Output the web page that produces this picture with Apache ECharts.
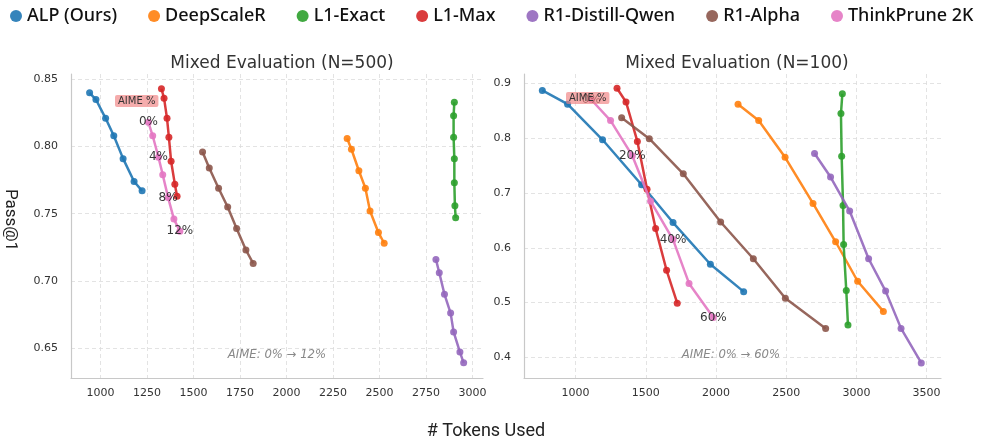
<!DOCTYPE html>
<html><head><meta charset="utf-8">
<script src="https://cdn.jsdelivr.net/npm/echarts@6/dist/echarts.min.js"></script>
<style>html,body{margin:0;padding:0;background:#fff}#c{width:981px;height:441px}</style>
</head><body><div id="c"></div>
<script>
// ---------- data ----------
const methods = ['ALP (Ours)','DeepScaleR','L1-Exact','L1-Max','R1-Distill-Qwen','R1-Alpha','ThinkPrune 2K'];

// Left panel: Mixed Evaluation (N=500)
const alpTok500  = [942, 976, 1028, 1072, 1122, 1181, 1224];
const alpAcc500  = [0.840, 0.835, 0.821, 0.808, 0.791, 0.774, 0.767];
const dsrTok500  = [2326, 2349, 2389, 2424, 2449, 2494, 2525];
const dsrAcc500  = [0.806, 0.798, 0.782, 0.769, 0.752, 0.736, 0.728];
const l1eTok500  = [2902, 2898, 2898, 2902, 2902, 2905, 2909];
const l1eAcc500  = [0.833, 0.823, 0.807, 0.791, 0.773, 0.756, 0.747];
const l1mTok500  = [1328, 1342, 1358, 1368, 1380, 1400, 1412];
const l1mAcc500  = [0.843, 0.836, 0.821, 0.807, 0.789, 0.772, 0.763];
const r1dTok500  = [2803, 2821, 2849, 2882, 2898, 2932, 2952];
const r1dAcc500  = [0.716, 0.706, 0.690, 0.676, 0.662, 0.647, 0.639];
const r1aTok500  = [1549, 1585, 1635, 1684, 1732, 1782, 1821];
const r1aAcc500  = [0.796, 0.784, 0.769, 0.755, 0.739, 0.723, 0.713];
const tpTok500   = [1258, 1281, 1312, 1335, 1364, 1395, 1427];
const tpAcc500   = [0.818, 0.808, 0.792, 0.779, 0.762, 0.746, 0.737];

// Right panel: Mixed Evaluation (N=100)
const alpTok100  = [763, 943, 1192, 1470, 1694, 1960, 2197];
const alpAcc100  = [0.887, 0.862, 0.797, 0.715, 0.646, 0.570, 0.520];
const dsrTok100  = [2157, 2304, 2492, 2691, 2852, 3009, 3192];
const dsrAcc100  = [0.862, 0.832, 0.765, 0.681, 0.611, 0.539, 0.484];
const l1eTok100  = [2900, 2890, 2895, 2905, 2909, 2928, 2940];
const l1eAcc100  = [0.881, 0.845, 0.767, 0.677, 0.606, 0.522, 0.459];
const l1mTok100  = [1295, 1359, 1440, 1509, 1570, 1648, 1724];
const l1mAcc100  = [0.891, 0.866, 0.794, 0.707, 0.635, 0.559, 0.499];
const r1dTok100  = [2702, 2816, 2952, 3087, 3208, 3318, 3462];
const r1dAcc100  = [0.772, 0.729, 0.667, 0.580, 0.521, 0.453, 0.390];
const r1aTok100  = [1328, 1525, 1767, 2033, 2266, 2494, 2781];
const r1aAcc100  = [0.837, 0.799, 0.735, 0.647, 0.580, 0.508, 0.453];
const tpTok100   = [1112, 1249, 1404, 1534, 1694, 1808, 1981];
const tpAcc100   = [0.870, 0.832, 0.768, 0.685, 0.615, 0.535, 0.473];

// tick values
const xTicks500 = [1000, 1250, 1500, 1750, 2000, 2250, 2500, 2750, 3000];
const yTicks500 = [0.65, 0.70, 0.75, 0.80, 0.85];
const xTicks100 = [1000, 1500, 2000, 2500, 3000, 3500];
const yTicks100 = [0.4, 0.5, 0.6, 0.7, 0.8, 0.9];

// AIME-% annotations on the ThinkPrune curve
const aimeIdx = [0, 2, 4, 6];
const aimeLabels500 = ['0%', '4%', '8%', '12%'];
const aimeLabels100 = ['0%', '20%', '40%', '60%'];

const titles = ['Mixed Evaluation (N=500)', 'Mixed Evaluation (N=100)'];
const aimeNotes = ['AIME: 0% \u2192 12%', 'AIME: 0% \u2192 60%'];

// ---------- styling ----------
const colors = ['#1f77b4','#ff7f0e','#2ca02c','#d62728','#9467bd','#8c564b','#e377c2'];
const tickFont = 'DejaVu Sans';

const left500 = [
  [alpTok500, alpAcc500],[dsrTok500, dsrAcc500],[l1eTok500, l1eAcc500],[l1mTok500, l1mAcc500],
  [r1dTok500, r1dAcc500],[r1aTok500, r1aAcc500],[tpTok500, tpAcc500]];
const right100 = [
  [alpTok100, alpAcc100],[dsrTok100, dsrAcc100],[l1eTok100, l1eAcc100],[l1mTok100, l1mAcc100],
  [r1dTok100, r1dAcc100],[r1aTok100, r1aAcc100],[tpTok100, tpAcc100]];

function buildData(tok, acc, labels) {
  return tok.map((t, i) => {
    const item = { value: [t, acc[i]] };
    if (labels) {
      const k = aimeIdx.indexOf(i);
      if (k >= 0) {
        item.label = {
          show: true, formatter: labels[k], position: 'inside', offset: [0, 8],
          color: '#222', fontSize: 12, fontFamily: tickFont
        };
      }
    }
    return item;
  });
}

const series = [];
[left500, right100].forEach((panel, p) => {
  panel.forEach((pair, m) => {
    const isTP = m === 6;
    series.push({
      type: 'line', name: methods[m], xAxisIndex: p, yAxisIndex: p,
      data: buildData(pair[0], pair[1], isTP ? (p === 0 ? aimeLabels500 : aimeLabels100) : null),
      symbol: 'circle', symbolSize: 7, showSymbol: true,
      lineStyle: { width: 2.5, color: colors[m], opacity: 0.9 },
      itemStyle: { color: colors[m], opacity: 0.9 },
      label: { show: false },
      labelLayout: { hideOverlap: false },
      emphasis: { disabled: true },
      animation: false, z: 2 + m
    });
  });
});

const gridL = { left: 71, top: 74, width: 412, height: 304 };
const gridR = { left: 524, top: 74, width: 417, height: 304 };

const gridLineStyle = { color: '#dcdcdc', type: [4, 3], width: 0.8 };

function xAxis(idx, min, max, ticks) {
  return {
    type: 'value', gridIndex: idx, min, max,
    axisLine: { show: true, lineStyle: { color: '#c8c8c8', width: 1.2 } },
    axisTick: { show: false, customValues: ticks },
    axisLabel: { color: '#333', fontSize: 11, fontFamily: tickFont, margin: 10, customValues: ticks,
      formatter: v => String(Math.round(v)) },
    splitLine: { show: true, lineStyle: gridLineStyle }
  };
}
function yAxis(idx, min, max, ticks, digits) {
  return {
    type: 'value', gridIndex: idx, min, max,
    axisLine: { show: true, lineStyle: { color: '#c8c8c8', width: 1.2 } },
    axisTick: { show: false, customValues: ticks },
    axisLabel: { color: '#333', fontSize: 11, fontFamily: tickFont, margin: 13, customValues: ticks,
      formatter: v => Number(v).toFixed(digits) },
    splitLine: { show: true, lineStyle: gridLineStyle }
  };
}

const chart = echarts.init(document.getElementById('c'), null, { renderer: 'canvas' });
chart.setOption({
  animation: false,
  backgroundColor: '#fff',
  color: colors,
  legend: {
    data: methods, top: 7, left: 10, itemGap: 31, padding: 0, width: 975,
    icon: 'circle', itemWidth: 12, itemHeight: 12,
    textStyle: { fontSize: 18, fontFamily: 'Noto Sans', color: '#111', fontWeight: 500 },
    selectedMode: false
  },
  title: [
    { text: titles[0], left: 277, top: 50, textAlign: 'center',
      textStyle: { fontSize: 17, fontWeight: 'normal', fontFamily: tickFont, color: '#333' } },
    { text: titles[1], left: 732, top: 50, textAlign: 'center',
      textStyle: { fontSize: 17, fontWeight: 'normal', fontFamily: tickFont, color: '#333' } }
  ],
  grid: [gridL, gridR],
  xAxis: [xAxis(0, 842, 3056, xTicks500), xAxis(1, 632.5, 3602.6, xTicks100)],
  yAxis: [yAxis(0, 0.6277, 0.854, yTicks500, 2), yAxis(1, 0.3625, 0.917, yTicks100, 1)],
  series: series,
  graphic: [
    { type: 'text', left: 115, top: 95, z: 100,
      style: { text: 'AIME %', fontSize: 10, fontFamily: tickFont, fill: '#333',
        backgroundColor: 'rgba(240,128,128,0.65)', padding: [1, 3, 1, 3], borderRadius: 2 } },
    { type: 'text', left: 566, top: 92, z: 100,
      style: { text: 'AIME %', fontSize: 10, fontFamily: tickFont, fill: '#333',
        backgroundColor: 'rgba(240,128,128,0.65)', padding: [1, 3, 1, 3], borderRadius: 2 } },
    { type: 'text', x: 277, y: 355, z: 100,
      style: { text: aimeNotes[0], fontSize: 11.7, fontStyle: 'italic', fontFamily: tickFont,
        fill: '#888', align: 'center', verticalAlign: 'middle' } },
    { type: 'text', x: 731, y: 355, z: 100,
      style: { text: aimeNotes[1], fontSize: 11.7, fontStyle: 'italic', fontFamily: tickFont,
        fill: '#888', align: 'center', verticalAlign: 'middle' } },
    { type: 'text', x: 10, y: 220, rotation: -Math.PI / 2, z: 100,
      style: { text: 'Pass@1', fontSize: 17, fontFamily: 'Roboto', fill: '#222',
        align: 'center', verticalAlign: 'middle' } },
    { type: 'text', x: 486, y: 431, z: 100,
      style: { text: '# Tokens Used', fontSize: 18, fontFamily: 'Roboto', fill: '#222',
        align: 'center', verticalAlign: 'middle' } }
  ]
});
</script></body></html>
